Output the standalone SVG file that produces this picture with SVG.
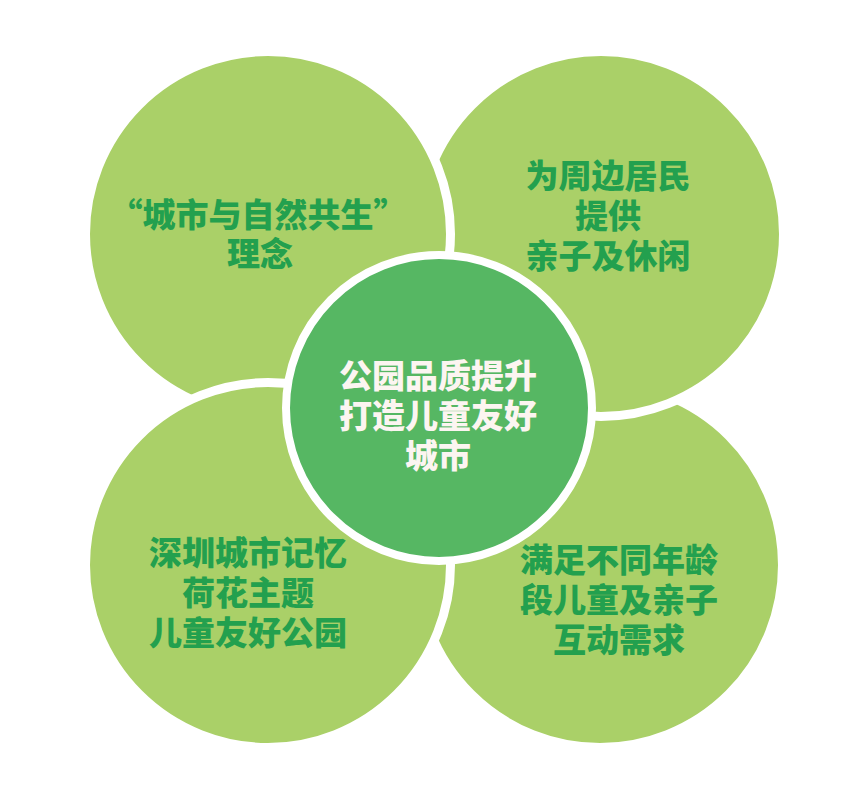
<svg xmlns="http://www.w3.org/2000/svg" width="867" height="799" viewBox="0 0 867 799">
<style>
.petal{fill:#aad068;stroke:#ffffff;stroke-width:9}
.hub{fill:#56b763;stroke:#ffffff;stroke-width:8}
.t{font-family:"Noto Sans CJK SC","Noto Sans",sans-serif;font-size:33px;font-weight:900;text-anchor:middle;fill:#23a04e}
.w{fill:#fcf5f1}
</style>
<rect width="867" height="799" fill="#ffffff"/>
<g id="node-bottom-right">
<circle class="petal" cx="600" cy="565" r="182.5"/>
<text class="t"><tspan x="619" y="572">满足不同年龄</tspan><tspan x="619" y="612">段儿童及亲子</tspan><tspan x="619" y="652">互动需求</tspan></text>
</g>
<g id="node-top-right">
<circle class="petal" cx="601" cy="234" r="182.5"/>
<text class="t"><tspan x="608" y="188">为周边居民</tspan><tspan x="608" y="228">提供</tspan><tspan x="608" y="268">亲子及休闲</tspan></text>
</g>
<g id="node-top-left">
<circle class="petal" cx="268" cy="234" r="182.5"/>
<text class="t"><tspan x="258" y="227">“城市与自然共生”</tspan><tspan x="260" y="266">理念</tspan></text>
</g>
<g id="node-bottom-left">
<circle class="petal" cx="268" cy="565" r="182.5"/>
<text class="t"><tspan x="248" y="565">深圳城市记忆</tspan><tspan x="248" y="605">荷花主题</tspan><tspan x="248" y="645">儿童友好公园</tspan></text>
</g>
<g id="node-center">
<circle class="hub" cx="439" cy="408" r="153"/>
<text class="t w"><tspan x="438" y="388">公园品质提升</tspan><tspan x="438" y="428">打造儿童友好</tspan><tspan x="438" y="468">城市</tspan></text>
</g>
<g id="connectors"></g>
</svg>
